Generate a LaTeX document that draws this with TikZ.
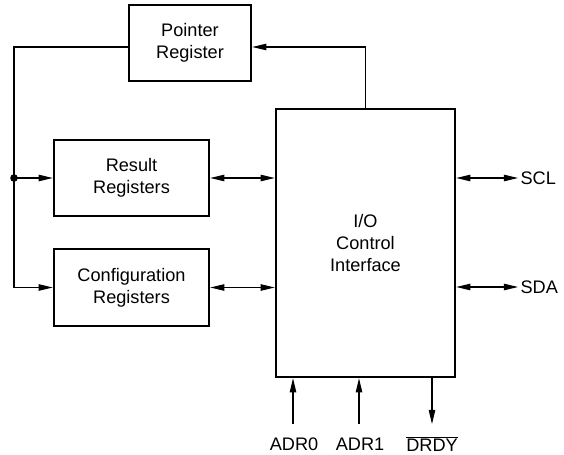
\documentclass[tikz,border=0pt]{standalone}
\usepackage{fontspec}
\setmainfont{Liberation Sans}
\usetikzlibrary{arrows.meta}
\tikzset{
	blk/.style={draw, line width=2.2pt, align=center, inner sep=0pt,
		font=\fontsize{15.5pt}{18.8pt}\selectfont},
	wire/.style={line width=0.9pt},
	arr/.style={wire, -{Triangle[length=12pt,width=5.5pt]}},
	dbl/.style={wire, {Triangle[length=12pt,width=5.5pt]}-{Triangle[length=12pt,width=5.5pt]}},
	pin/.style={inner sep=2pt, font=\fontsize{15.5pt}{18.8pt}\selectfont}
}

\begin{document}
\begin{tikzpicture}[x=0.03cm, y=-0.03cm]
			%%%%% START %%%%%
			\useasboundingbox (0, 0) rectangle (564, 455);
			
			\node[blk, minimum width=3.66cm, minimum height=2.28cm] (ptr) at (190, 43) {Pointer\\Register};
			\node[blk, minimum width=4.65cm, minimum height=2.28cm] (res) at (131.5, 178) {Result\\Registers};
			\node[blk, minimum width=4.65cm, minimum height=2.31cm] (cfg) at (131.5, 287.5) {Configuration\\Registers};
			\node[blk, minimum width=5.37cm, minimum height=8.04cm] (io) at (365.5, 243) {I/O\\Control\\Interface};
			
			%%%%% BUS %%%%%
			\coordinate (bus) at (14, 178);
			\draw[arr] ([yshift=-0.12cm]ptr.west) -| (bus) |- (cfg.west);
			\draw[arr] (bus) -- (res.west);
			\fill (bus) circle (3.8);
			\draw[arr] (io.north) |- ([yshift=-0.12cm]ptr.east);
			
			\draw[dbl] (res.east) -- (io.west |- res.east);
			\draw[dbl] (cfg.east) -- (io.west |- cfg.east);
			
			%%%%% PINS %%%%%
			\node[pin, anchor=west] (scl) at (518, 178) {SCL};
			\node[pin, anchor=west] (sda) at (518, 287) {SDA};
			\draw[dbl] (io.east |- scl) -- (scl.west);
			\draw[dbl] (io.east |- sda) -- (sda.west);
			
			\node[pin] (adr0) at (294, 444) {ADR0};
			\node[pin] (adr1) at (360, 444) {ADR1};
			\node[pin] (drdy) at (432, 444) {$\overline{\mbox{DRDY}}$};
			\coordinate (p0) at (293, 424);
			\coordinate (p1) at (359, 424);
			\coordinate (p2) at (432, 424);
			\draw[arr] (p0) -- (p0 |- io.south);
			\draw[arr] (p1) -- (p1 |- io.south);
			\draw[arr] (p2 |- io.south) -- (p2);
			%%%%% END %%%%%
\end{tikzpicture}
\end{document}
